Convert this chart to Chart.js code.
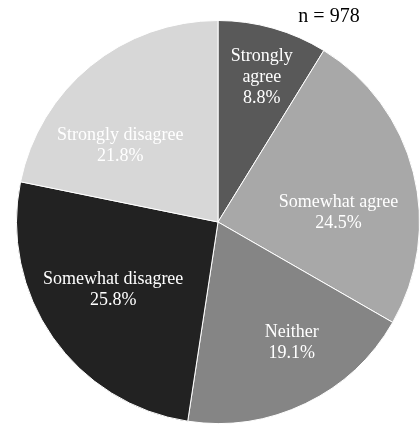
<!DOCTYPE html>
<html>
<head>
<meta charset="utf-8">
<script src="https://cdn.jsdelivr.net/npm/chart.js@4"></script>
<style>
html,body{margin:0;padding:0;background:#fff;}
#wrap{width:420px;height:428px;position:relative;}
</style>
</head>
<body>
<div id="wrap"><canvas id="c" width="420" height="428"></canvas></div>
<script>
const categories = ["Strongly agree", "Somewhat agree", "Neither", "Somewhat disagree", "Strongly disagree"];
const labelLines = [["Strongly", "agree"], ["Somewhat agree"], ["Neither"], ["Somewhat disagree"], ["Strongly disagree"]];
const percentages = [8.8, 24.5, 19.1, 25.8, 21.8];
const sampleNote = "n = 978";

const colors = ["#595959", "#a8a8a8", "#858585", "#222222", "#d7d7d7"];
// label placement: radial fraction and angular tweak (radians)
const labelRadius = [0.75, 0.60, 0.70, 0.62, 0.614];
const labelAngle = [0.018, 0.173, -0.10, 0.035, -0.227];

const labelPlugin = {
  id: 'sliceLabels',
  afterDatasetsDraw(chart) {
    const ctx = chart.ctx;
    const meta = chart.getDatasetMeta(0);
    ctx.save();
    ctx.fillStyle = '#ffffff';
    ctx.font = '18px "Liberation Serif", "Times New Roman", serif';
    ctx.textAlign = 'center';
    ctx.textBaseline = 'middle';
    meta.data.forEach((arc, i) => {
      const p = arc.getProps(['x', 'y', 'startAngle', 'endAngle', 'outerRadius'], true);
      const a = (p.startAngle + p.endAngle) / 2 + labelAngle[i];
      const r = p.outerRadius * labelRadius[i];
      const cx = p.x + Math.cos(a) * r;
      const cy = p.y + Math.sin(a) * r;
      const lines = labelLines[i].concat([percentages[i].toFixed(1) + '%']);
      const lh = 21;
      const y0 = cy - (lines.length - 1) * lh / 2;
      lines.forEach((t, k) => ctx.fillText(t, cx, y0 + k * lh));
    });
    ctx.fillStyle = '#000000';
    ctx.font = '20px "Liberation Serif", "Times New Roman", serif';
    ctx.textAlign = 'center';
    ctx.fillText(sampleNote, 329, 17);
    ctx.restore();
  }
};

new Chart(document.getElementById('c'), {
  type: 'pie',
  data: {
    labels: categories,
    datasets: [{
      data: percentages,
      backgroundColor: colors,
      borderColor: '#ffffff',
      borderWidth: 1
    }]
  },
  options: {
    responsive: false,
    animation: false,
    devicePixelRatio: 1,
    layout: { padding: { left: 16, right: 0, top: 20, bottom: 4 } },
    plugins: { legend: { display: false }, tooltip: { enabled: false } }
  },
  plugins: [labelPlugin]
});
</script>
</body>
</html>
